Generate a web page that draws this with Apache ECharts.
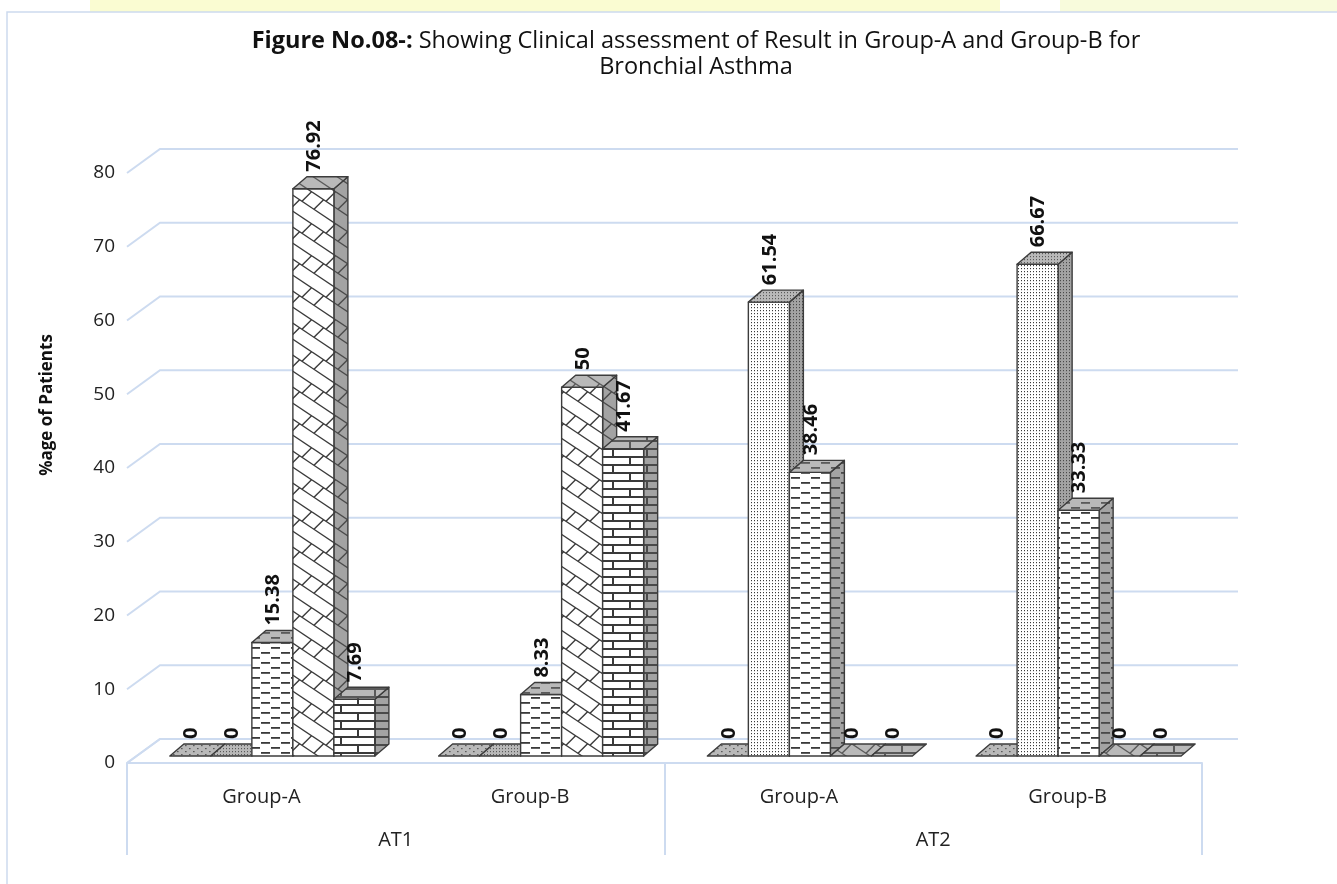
<!DOCTYPE html>
<html><head><meta charset="utf-8">
<script src="https://cdn.jsdelivr.net/npm/echarts@6/dist/echarts.min.js"></script>
<style>html,body{margin:0;padding:0;background:#fff;}#c{width:1337px;height:884px;}</style>
</head><body><div id="c"></div>
<script>
// ---- data ----
const groups = ['Group-A', 'Group-B', 'Group-A', 'Group-B'];
const phases = ['AT1', 'AT2'];
const yTicks = [0, 10, 20, 30, 40, 50, 60, 70, 80];
const s1 = [0, 0, 0, 0];
const s2 = [0, 0, 61.54, 66.67];
const s3 = [15.38, 8.33, 38.46, 33.33];
const s4 = [76.92, 50, 0, 0];
const s5 = [7.69, 41.67, 0, 0];
const seriesValues = [s1, s2, s3, s4, s5];

// ---- patterns ----
function tile(w, h, bg, draw) {
  const c = document.createElement('canvas'); c.width = w; c.height = h;
  const g = c.getContext('2d'); g.fillStyle = bg; g.fillRect(0, 0, w, h);
  draw(g, w, h); return { image: c, repeat: 'repeat' };
}
function wline(g, w, h, x1, y1, x2, y2) {
  for (let i = -1; i <= 1; i++) for (let j = -1; j <= 1; j++) {
    g.beginPath(); g.moveTo(x1 + i * w, y1 + j * h); g.lineTo(x2 + i * w, y2 + j * h); g.stroke();
  }
}
const pat = {
  sparse: (bg, fg) => tile(8, 6, bg, (g) => { g.fillStyle = fg; g.fillRect(1, 1, 1.6, 1.2); g.fillRect(5, 4, 1.6, 1.2); }),
  dense: (bg, fg) => tile(3, 3, bg, (g) => { g.fillStyle = fg; g.fillRect(1, 1, 1, 1.2); }),
  dash: (bg, fg) => tile(20, 10, bg, (g) => { g.fillStyle = fg; g.fillRect(1, 2, 9, 1.8); g.fillRect(11, 7, 9, 1.8); }),
  diag: (bg, fg) => tile(24, 32, bg, (g, w, h) => {
    g.strokeStyle = fg; g.lineWidth = 1.4;
    wline(g, w, h, 0, 0, 24, 16); wline(g, w, h, 0, 16, 24, 32);
    wline(g, w, h, 2, 17.33, 11.6, 7.73); wline(g, w, h, 14, 41.33, 23.6, 31.73);
  }),
  brick: (bg, fg) => tile(34, 16, bg, (g) => {
    g.fillStyle = fg; g.fillRect(0, 0, 34, 2); g.fillRect(0, 8, 34, 2);
    g.fillRect(0, 0, 2, 8); g.fillRect(17, 8, 2, 8);
  })
};
const kinds = ['sparse', 'dense', 'dash', 'diag', 'brick'];
const FRONT = kinds.map(k => pat[k]('#ffffff', '#3a3a3a'));
const TOP = kinds.map(k => pat[k]('#b9b9b9', '#5a5a5a'));
const SIDE = kinds.map(k => pat[k]('#a3a3a3', '#4a4a4a'));
FRONT[0] = pat.sparse('#b0b0b0', '#333');

// ---- geometry of the pseudo-3D look ----
const BAR_FRAC = 0.1526, OFF_X = 11, OFF_Y = -7, DX = 14, DY = 12;
const WALL_DX = 33, WALL_DY = 24;
const FONT = "'Open Sans', 'Noto Sans', sans-serif";

function makeRender(si) {
  return function (params, api) {
    const cat = api.value(0), v = api.value(1);
    const base = api.coord([cat, 0]);
    const top = api.coord([cat, v]);
    const cw = api.size([1, 0])[0];
    const bw = cw * BAR_FRAC;
    const x0 = base[0] - 2.5 * bw + si * bw + OFF_X, x1 = x0 + bw;
    const yb = base[1] + OFF_Y, yt = top[1] + OFF_Y;
    const st = { stroke: '#3c3c3c', lineWidth: 1.4, lineJoin: 'round' };
    const ch = [];
    if (yb - yt > 0.5) {
      ch.push({ type: 'polygon', shape: { points: [[x1, yt], [x1 + DX, yt - DY], [x1 + DX, yb - DY], [x1, yb]] }, style: Object.assign({ fill: SIDE[si] }, st) });
      ch.push({ type: 'polygon', shape: { points: [[x0, yt], [x1, yt], [x1, yb], [x0, yb]] }, style: Object.assign({ fill: FRONT[si] }, st) });
    }
    ch.push({ type: 'polygon', shape: { points: [[x0, yt], [x1, yt], [x1 + DX, yt - DY], [x0 + DX, yt - DY]] }, style: Object.assign({ fill: TOP[si] }, st) });
    ch.push({
      type: 'text', x: (x0 + x1) / 2 + 1, y: yt - DY - 5, rotation: Math.PI / 2,
      style: { text: String(v), align: 'left', verticalAlign: 'middle', fontSize: 20, fontWeight: 'bold', fontFamily: FONT, fill: '#111' }
    });
    return { type: 'group', children: ch };
  };
}

function wallRender(params, api) {
  const cs = params.coordSys;
  const y = api.coord([0, api.value(1)])[1];
  return {
    type: 'polyline',
    shape: { points: [[cs.x, y], [cs.x + WALL_DX, y - WALL_DY], [cs.x + cs.width + 36, y - WALL_DY]] },
    style: { stroke: '#cddbf0', lineWidth: 2, fill: null }
  };
}

const chart = echarts.init(document.getElementById('c'), null, { renderer: 'canvas' });
const series = [{
  type: 'custom', name: 'wall', renderItem: wallRender, clip: false, z: 1, silent: true,
  data: yTicks.map(v => [0, v]), encode: { x: 0, y: 1 }
}];
seriesValues.forEach((arr, si) => {
  series.push({
    type: 'custom', name: 'S' + (si + 1), renderItem: makeRender(si), clip: false, z: 2 + si,
    data: arr.map((v, i) => [i, v]), encode: { x: 0, y: 1 }
  });
});

chart.setOption({
  animation: false,
  backgroundColor: '#ffffff',
  title: [{
    left: 691, top: 24, textAlign: 'center',
    text: '{b|Figure No.08-:} Showing Clinical assessment of Result in Group-A and Group-B for',
    textStyle: { fontFamily: FONT, fontSize: 23.5, fontWeight: 'normal', color: '#111', rich: { b: { fontFamily: FONT, fontSize: 23.5, fontWeight: 'bold', color: '#111' } } }
  }, {
    left: 691, top: 50, textAlign: 'center', text: 'Bronchial Asthma',
    textStyle: { fontFamily: FONT, fontSize: 23.5, fontWeight: 'normal', color: '#111' }
  }],
  graphic: [
    { type: 'rect', shape: { x: 90, y: 0, width: 910, height: 12 }, style: { fill: '#fafcd2' }, z: -10 },
    { type: 'rect', shape: { x: 1060, y: 0, width: 277, height: 12 }, style: { fill: '#f8fbdc' }, z: -10 },
    { type: 'rect', shape: { x: 7, y: 12, width: 1340, height: 880 }, style: { fill: null, stroke: '#cddaee', lineWidth: 1.5 }, z: -10 },
    { type: 'line', shape: { x1: 127, y1: 763, x2: 160, y2: 739 }, style: { stroke: '#cddbf0', lineWidth: 2 }, z: -5 },
    {
      type: 'text', x: 47, y: 405, rotation: Math.PI / 2,
      style: { text: '%age of Patients', align: 'center', verticalAlign: 'middle', fontSize: 17, fontWeight: 'bold', fontFamily: FONT, fill: '#111' }
    }
  ],
  grid: { left: 127, right: 135, top: 173, bottom: 121, containLabel: false },
  xAxis: [{
    type: 'category', data: groups, position: 'bottom',
    axisLine: { show: true, lineStyle: { color: '#cddbf0', width: 2 } },
    axisTick: { show: false },
    axisLabel: { margin: 24, fontSize: 20, fontFamily: FONT, color: '#222' },
    splitLine: { show: false }
  }, {
    type: 'category', data: phases, position: 'bottom',
    axisLine: { show: false },
    axisTick: { show: true, length: 92, lineStyle: { color: '#cddbf0', width: 2 } },
    axisLabel: { margin: 67, fontSize: 20, fontFamily: FONT, color: '#222' },
    splitLine: { show: false }
  }],
  yAxis: {
    type: 'value', min: 0, max: 80, interval: 10,
    axisLine: { show: false }, axisTick: { show: false }, splitLine: { show: false },
    axisLabel: { margin: 12, fontSize: 19, fontFamily: FONT, color: '#222' }
  },
  series: series
});
</script>
</body></html>
